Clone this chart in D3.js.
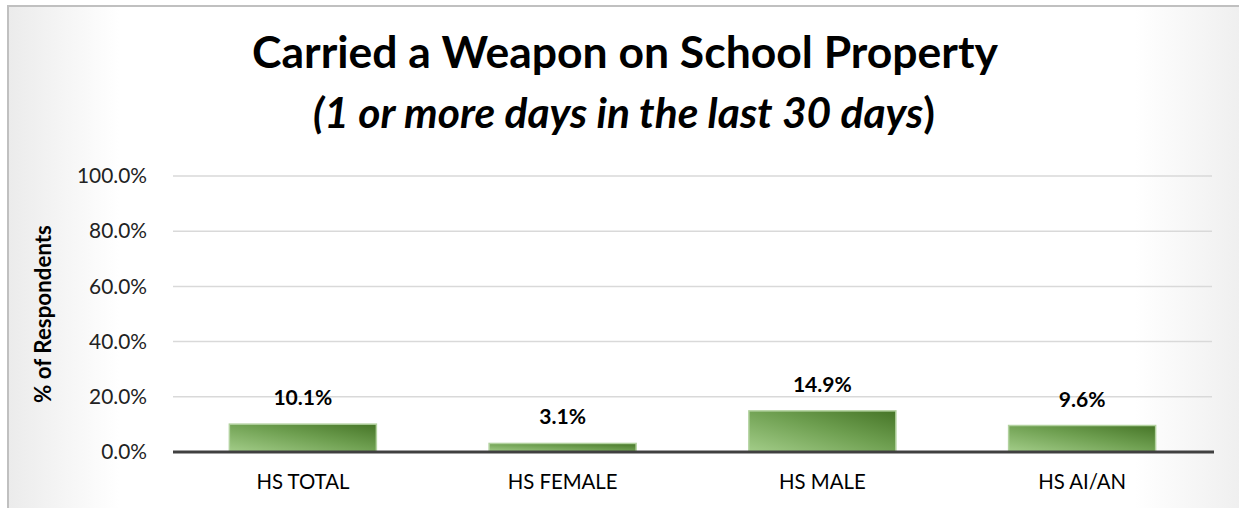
<!DOCTYPE html>
<html lang="en">
<head>
  <meta charset="utf-8"/>
  <title>Carried a Weapon on School Property</title>
  <script src="https://d3js.org/d3.v7.min.js"></script>
  <style>
    body { margin: 0; background: #fff; }
    svg { display: block; font-family: Lato, "Open Sans", sans-serif; }
  </style>
</head>
<body>
  <div id="chart"></div>
  <script>
    // data
    var categories = ['HS TOTAL', 'HS FEMALE', 'HS MALE', 'HS AI/AN'];
    var values = [10.1, 3.1, 14.9, 9.6];
    var yTicks = [0, 20, 40, 60, 80, 100];

    var width = 1239, height = 508;
    var plot = { left: 173, right: 1212, top: 176, bottom: 452 };

    var svg = d3.select('#chart').append('svg')
      .attr('width', width)
      .attr('height', height);

    var defs = svg.append('defs');

    // soft gray shading at the sides of the chart area
    var bg = defs.append('linearGradient').attr('id', 'bg-grad')
      .attr('x1', '0%').attr('y1', '0%').attr('x2', '100%').attr('y2', '0%');
    bg.append('stop').attr('offset', '0%').attr('stop-color', '#ebebeb');
    bg.append('stop').attr('offset', '9%').attr('stop-color', '#ffffff');
    bg.append('stop').attr('offset', '91%').attr('stop-color', '#ffffff');
    bg.append('stop').attr('offset', '100%').attr('stop-color', '#eeeeee');

    // bar fill: light green bottom-left to dark green top-right
    var barGrad = defs.append('linearGradient').attr('id', 'bar-grad')
      .attr('x1', '0%').attr('y1', '100%').attr('x2', '100%').attr('y2', '0%');
    barGrad.append('stop').attr('offset', '0%').attr('stop-color', '#a3cd89');
    barGrad.append('stop').attr('offset', '55%').attr('stop-color', '#6e9f50');
    barGrad.append('stop').attr('offset', '100%').attr('stop-color', '#467527');

    svg.append('rect')
      .attr('x', 8).attr('y', 6)
      .attr('width', width).attr('height', height)
      .attr('fill', 'url(#bg-grad)')
      .attr('stroke', '#c0c0c0')
      .attr('stroke-width', 2);

    // fit a text element's font size so it spans a target width
    function fit(sel, target) {
      var size = parseFloat(sel.attr('font-size'));
      var w = sel.node().getComputedTextLength();
      sel.attr('font-size', (size * target / w).toFixed(2));
      return size * target / w;
    }

    // titles
    var title = svg.append('text')
      .attr('x', 625).attr('y', 68)
      .attr('text-anchor', 'middle')
      .attr('font-weight', 'bold')
      .attr('font-size', 36)
      .attr('fill', '#000')
      .text('Carried a Weapon on School Property');
    fit(title, 746);

    var sub = svg.append('text')
      .attr('x', 624).attr('y', 128)
      .attr('text-anchor', 'middle')
      .attr('font-weight', 'bold')
      .attr('font-size', 34)
      .attr('fill', '#000');
    sub.append('tspan').attr('font-style', 'italic').text('(1 or more days in the last 30 days');
    sub.append('tspan').text(')');
    fit(sub, 622);

    var x = d3.scaleBand()
      .domain(categories)
      .range([plot.left, plot.right])
      .paddingInner(0.434)
      .paddingOuter(0.217);

    var y = d3.scaleLinear()
      .domain([0, 100])
      .range([plot.bottom, plot.top]);

    // gridlines
    svg.append('g')
      .selectAll('line')
      .data(yTicks.filter(function(d) { return d > 0; }))
      .enter().append('line')
      .attr('x1', plot.left).attr('x2', plot.right)
      .attr('y1', function(d) { return y(d); })
      .attr('y2', function(d) { return y(d); })
      .attr('stroke', '#d9d9d9')
      .attr('stroke-width', 1.5);

    // y axis labels
    var yAxis = svg.append('g')
      .attr('transform', 'translate(' + (plot.left - 23) + ',0)')
      .call(d3.axisLeft(y).tickValues(yTicks).tickSize(0)
        .tickFormat(function(d) { return d.toFixed(1) + '%'; }));
    yAxis.select('.domain').remove();
    yAxis.selectAll('text')
      .attr('font-family', 'Lato, sans-serif')
      .attr('font-size', 18)
      .attr('fill', '#222');
    var tickSize = fit(yAxis.selectAll('text').filter(function(d) { return d === 100; }), 70);
    yAxis.selectAll('text').attr('font-size', tickSize.toFixed(2));

    svg.append('text')
      .attr('transform', 'translate(51,314) rotate(-90)')
      .attr('text-anchor', 'middle')
      .attr('font-weight', 'bold')
      .attr('font-size', 16)
      .attr('fill', '#000')
      .text('% of Respondents')
      .call(function(s) { fit(s, 178); });

    // bars
    svg.append('g')
      .selectAll('rect')
      .data(values)
      .enter().append('rect')
      .attr('x', function(d, i) { return x(categories[i]); })
      .attr('y', function(d) { return y(d); })
      .attr('width', x.bandwidth())
      .attr('height', function(d) { return y(0) - y(d); })
      .attr('fill', 'url(#bar-grad)')
      .attr('stroke', '#b3d2a0')
      .attr('stroke-width', 1.5);

    // value labels
    var labels = svg.append('g')
      .selectAll('text')
      .data(values)
      .enter().append('text')
      .attr('x', function(d, i) { return x(categories[i]) + x.bandwidth() / 2; })
      .attr('y', function(d) { return y(d) - 19; })
      .attr('text-anchor', 'middle')
      .attr('font-weight', 'bold')
      .attr('font-size', 17)
      .attr('fill', '#000')
      .text(function(d) { return d.toFixed(1) + '%'; });
    var valSize = fit(labels.filter(function(d, i) { return i === 0; }), 59);
    labels.attr('font-size', valSize.toFixed(2));

    // baseline
    svg.append('line')
      .attr('x1', plot.left).attr('x2', plot.right + 2)
      .attr('y1', y(0)).attr('y2', y(0))
      .attr('stroke', '#404040')
      .attr('stroke-width', 3);

    // category labels
    var xLabels = svg.append('g')
      .selectAll('text')
      .data(categories)
      .enter().append('text')
      .attr('x', function(d) { return x(d) + x.bandwidth() / 2; })
      .attr('y', 489)
      .attr('text-anchor', 'middle')
      .attr('font-size', 19)
      .attr('fill', '#000')
      .text(function(d) { return d; });
    var catSize = fit(xLabels.filter(function(d, i) { return i === 0; }), 93);
    xLabels.attr('font-size', catSize.toFixed(2));
  </script>
</body>
</html>
